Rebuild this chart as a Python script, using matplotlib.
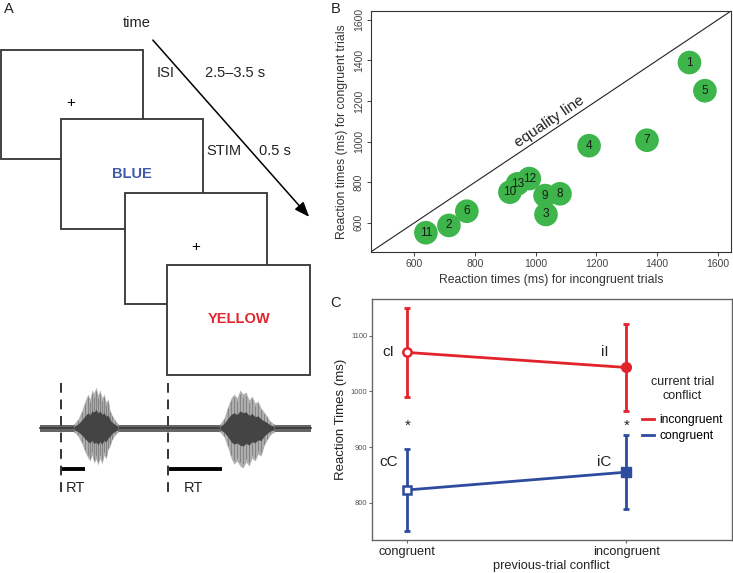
import numpy as np
import matplotlib
matplotlib.use('Agg')
import matplotlib.pyplot as plt
from matplotlib.patches import Rectangle
from matplotlib.lines import Line2D

plt.rcParams['font.family'] = ['Liberation Sans', 'DejaVu Sans']

# ---- dane panel B ----
subjects = ['1', '2', '3', '4', '5', '6', '7', '8', '9', '10', '11', '12', '13']
rt_incongruent = [1507, 714, 1034, 1176, 1558, 773, 1367, 1080, 1031, 915, 638, 979, 940]
rt_congruent = [1390, 587, 641, 980, 1251, 657, 1007, 743, 734, 751, 551, 818, 792]

# ---- dane panel C ----
prev_levels = ['congruent', 'incongruent']
cond_labels = [['cI', 'iI'], ['cC', 'iC']]
rt_inc_mean = [1070, 1043]
rt_inc_low = [990, 964]
rt_inc_high = [1150, 1121]
rt_con_mean = [823, 855]
rt_con_low = [750, 788]
rt_con_high = [897, 922]

# ---- panel A: schemat (wspolrzedne w pikselach) ----
rects = [(1, 50, 142, 109), (61, 119, 142, 110), (125, 193, 142, 111), (167, 265, 143, 110)]

# obwiednia sygnalu (px od linii bazowej)
burst1_x = [74, 78, 82, 85, 88, 90, 92, 94, 96, 98, 100, 102, 104, 106, 108, 110, 112, 115, 118]
burst1_up = [4, 9, 18, 27, 34, 29, 38, 35, 41, 33, 38, 30, 34, 26, 29, 18, 13, 8, 4]
burst1_lo = [4, 8, 16, 24, 30, 33, 27, 35, 31, 37, 30, 36, 27, 31, 22, 18, 12, 7, 4]
burst2_x = [220, 224, 228, 231, 234, 237, 240, 243, 246, 249, 252, 255, 258, 261, 264, 267, 270, 274]
burst2_up = [4, 10, 22, 30, 34, 30, 38, 34, 36, 28, 32, 25, 27, 20, 16, 12, 7, 4]
burst2_lo = [4, 9, 20, 30, 36, 33, 38, 40, 34, 38, 30, 33, 26, 28, 18, 12, 7, 4]

fig = plt.figure(figsize=(7.33, 5.73), dpi=100)

ov = fig.add_axes([0, 0, 1, 1])
ov.set_xlim(0, 733)
ov.set_ylim(573, 0)
ov.axis('off')

for i, (x, y, w, h) in enumerate(rects):
    ov.add_patch(Rectangle((x, y), w, h, facecolor='white', edgecolor='#333333', lw=1.3, zorder=2 + i))

ov.text(71, 103, '+', fontsize=11, ha='center', va='center', zorder=10)
ov.text(132, 174, 'BLUE', fontsize=10.5, fontweight='bold', color='#3F5AA6', ha='center', va='center', zorder=10)
ov.text(196, 247, '+', fontsize=11, ha='center', va='center', zorder=10)
ov.text(239, 319, 'YELLOW', fontsize=10.5, fontweight='bold', color='#E3262E', ha='center', va='center', zorder=10)

ov.text(137, 23, 'time', fontsize=10.5, ha='center', va='center', color='#222222')
ov.text(166, 73, 'ISI', fontsize=10.5, ha='center', va='center', color='#222222')
ov.text(235, 73, '2.5–3.5 s', fontsize=10.5, ha='center', va='center', color='#222222')
ov.text(224, 151, 'STIM', fontsize=10.5, ha='center', va='center', color='#222222')
ov.text(275, 151, '0.5 s', fontsize=10.5, ha='center', va='center', color='#222222')
ov.annotate('', xy=(311, 219), xytext=(151, 38),
            arrowprops=dict(arrowstyle='-|>,head_length=0.9,head_width=0.35', color='black', lw=1.1))

# sygnal
base = 428
ov.fill_between([40, 311], base - 3.5, base + 3.5, color='#666666', lw=0, zorder=3)
ov.plot([40, 311], [base, base], color='#3a3a3a', lw=1.2, zorder=3)
for bx, bu, bl in [(burst1_x, burst1_up, burst1_lo), (burst2_x, burst2_up, burst2_lo)]:
    bx = np.array(bx)
    bu = np.array(bu)
    bl = np.array(bl)
    ov.fill_between(bx, base - bu, base + bl, color='#b0b0b0', lw=0, zorder=4)
    ov.vlines(bx, base - bu * 0.9, base + bl * 0.9, color='#858585', lw=0.8, zorder=5)
    ov.fill_between(bx, base - bu * 0.45, base + bl * 0.45, color='#444444', lw=0, zorder=6)

for xd in [60.5, 167.5]:
    ov.plot([xd, xd], [383, 495], color='#333333', lw=1.4, ls=(0, (5, 3.5)), zorder=7)
ov.plot([63, 83], [469, 469], color='black', lw=2.8)
ov.plot([171, 220], [469, 469], color='black', lw=2.8)
ov.text(66, 488, 'RT', fontsize=10.5, ha='left', va='center', color='#222222')
ov.text(184, 488, 'RT', fontsize=10.5, ha='left', va='center', color='#222222')

ov.text(4, 9, 'A', fontsize=10.5, ha='left', va='center', color='#222222')
ov.text(331, 9, 'B', fontsize=10.5, ha='left', va='center', color='#222222')
ov.text(330, 303, 'C', fontsize=10.5, ha='left', va='center', color='#222222')

# ---- panel B ----
axB = fig.add_axes([370.7 / 733, 1 - 252 / 573, (731 - 370.7) / 733, (252 - 11) / 573])
lim = (456, 1644)
axB.set_xlim(lim)
axB.set_ylim(lim)
axB.plot(lim, lim, color='#222222', lw=0.8, zorder=1)
axB.scatter(rt_incongruent, rt_congruent, s=290, color='#3DB54A', edgecolors='none', zorder=3)
for s, x, y in zip(subjects, rt_incongruent, rt_congruent):
    axB.text(x, y, s, fontsize=8.5, ha='center', va='center', color='#1a1a1a', zorder=4)
axB.text(1047, 1100, 'equality line', fontsize=11, rotation=34, ha='center', va='center',
         rotation_mode='anchor', color='#222222')
ticks = [600, 800, 1000, 1200, 1400, 1600]
axB.set_xticks(ticks)
axB.set_yticks(ticks)
axB.tick_params(axis='both', length=3, width=0.7, color='#444444', labelsize=7.5, labelcolor='#444444', pad=2)
for lab in axB.get_yticklabels():
    lab.set_rotation(90)
    lab.set_va('center')
for sp in axB.spines.values():
    sp.set_color('#333333')
    sp.set_linewidth(0.8)
axB.set_xlabel('Reaction times (ms) for incongruent trials', fontsize=8.8, color='#333333', labelpad=4)
axB.set_ylabel('Reaction times (ms) for congruent trials', fontsize=8.8, color='#333333', labelpad=4)

# ---- panel C ----
axC = fig.add_axes([371.7 / 733, 1 - 539.5 / 573, (731.5 - 371.7) / 733, (539.5 - 299) / 573])
red = '#E3232C'
blue = '#2E4C9E'
xs = [1, 2]
axC.set_xlim(0.837, 2.48)
axC.set_ylim(734, 1166)
axC.plot(xs, rt_inc_mean, color=red, lw=2, zorder=2)
axC.plot(xs, rt_con_mean, color=blue, lw=2, zorder=2)
for i, x in enumerate(xs):
    axC.errorbar(x, rt_inc_mean[i], yerr=[[rt_inc_mean[i] - rt_inc_low[i]], [rt_inc_high[i] - rt_inc_mean[i]]],
                 color=red, lw=2, capsize=2.5, capthick=2, zorder=2)
    axC.errorbar(x, rt_con_mean[i], yerr=[[rt_con_mean[i] - rt_con_low[i]], [rt_con_high[i] - rt_con_mean[i]]],
                 color=blue, lw=2, capsize=2.5, capthick=2, zorder=2)
axC.plot(1, rt_inc_mean[0], 'o', ms=6, mfc='white', mec=red, mew=1.8, zorder=3)
axC.plot(2, rt_inc_mean[1], 'o', ms=7, color=red, zorder=3)
axC.plot(1, rt_con_mean[0], 's', ms=5.5, mfc='white', mec=blue, mew=1.8, zorder=3)
axC.plot(2, rt_con_mean[1], 's', ms=7, color=blue, zorder=3)

label_x = [0.915, 1.90]
for j in range(2):
    axC.text(label_x[j], 1071, cond_labels[0][j], fontsize=11, ha='center', va='center', color='#222222')
    axC.text(label_x[j], 874, cond_labels[1][j], fontsize=11, ha='center', va='center', color='#222222')
    axC.text(xs[j], 938, '*', fontsize=11, ha='center', va='center', color='#222222')

axC.set_xticks(xs)
axC.set_xticklabels(prev_levels)
axC.set_yticks([800, 900, 1000, 1100])
axC.tick_params(axis='x', length=2, color='#666666', labelsize=9.2, labelcolor='#222222', pad=3)
axC.tick_params(axis='y', length=2, color='#666666', labelsize=5.5, labelcolor='#555555', pad=1)
for sp in axC.spines.values():
    sp.set_color('#666666')
    sp.set_linewidth(1)
axC.set_xlabel('previous-trial conflict', fontsize=9.2, color='#222222', labelpad=1)
axC.set_ylabel('Reaction Times (ms)', fontsize=9.5, color='#222222', labelpad=3)

handles = [Line2D([0], [0], color=red, lw=2), Line2D([0], [0], color=blue, lw=2)]
leg = axC.legend(handles, ['incongruent', 'congruent'], title='current trial\nconflict',
                 loc='upper left', bbox_to_anchor=(637 / 733, 1 - 371 / 573), bbox_transform=fig.transFigure,
                 frameon=False, fontsize=8.7, title_fontsize=9, handlelength=1.0, handletextpad=0.45,
                 labelspacing=0.3, borderaxespad=0)
leg.get_title().set_multialignment('center')
leg.get_title().set_color('#222222')
leg._legend_box.sep = 9

fig.savefig('out.png', dpi=100)
